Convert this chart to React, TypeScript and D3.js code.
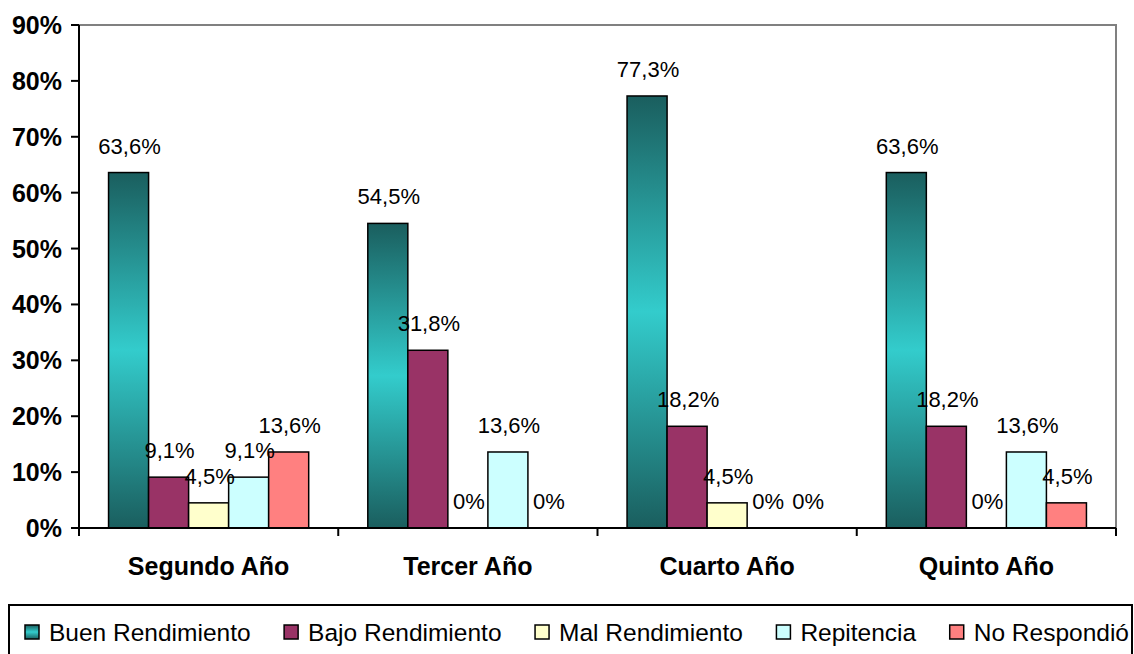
import React, { useEffect, useRef } from "react";
import * as d3 from "d3";

const categories = ["Segundo Año", "Tercer Año", "Cuarto Año", "Quinto Año"];
const seriesNames = ["Buen Rendimiento", "Bajo Rendimiento", "Mal Rendimiento", "Repitencia", "No Respondió"];
const buenRendimiento = [63.6, 54.5, 77.3, 63.6];
const bajoRendimiento = [9.1, 31.8, 18.2, 18.2];
const malRendimiento = [4.5, 0, 4.5, 0];
const repitencia = [9.1, 13.6, 0, 13.6];
const noRespondio = [13.6, 0, 0, 4.5];
const seriesValues = [buenRendimiento, bajoRendimiento, malRendimiento, repitencia, noRespondio];
const yTicks = [0, 10, 20, 30, 40, 50, 60, 70, 80, 90];

const fills = ["url(#buenGrad)", "#993366", "#FFFFCC", "#CCFFFF", "#FF8080"];

const W = 1134;
const H = 654;
const plot = { left: 79, right: 1116, top: 25, bottom: 528 };
const FONT = "Arial, 'Liberation Sans', Helvetica, sans-serif";

function fmt(v: number) {
  if (v === 0) return "0%";
  return v.toFixed(1).replace(".", ",") + "%";
}

export default function App() {
  const ref = useRef<SVGSVGElement>(null);

  useEffect(() => {
    const svg = d3.select(ref.current);
    svg.selectAll("*").remove();

    const defs = svg.append("defs");
    const g = defs
      .append("linearGradient")
      .attr("id", "buenGrad")
      .attr("x1", 0)
      .attr("y1", 0)
      .attr("x2", 0)
      .attr("y2", 1);
    g.append("stop").attr("offset", "0%").attr("stop-color", "#1A5E5E");
    g.append("stop").attr("offset", "50%").attr("stop-color", "#33CCCC");
    g.append("stop").attr("offset", "100%").attr("stop-color", "#1A5E5E");

    const x0 = d3.scaleBand<string>().domain(categories).range([plot.left, plot.right]).paddingInner(0).paddingOuter(0);
    const bw = x0.bandwidth();
    const groupW = bw * 0.772;
    const x1 = d3
      .scaleBand<number>()
      .domain(d3.range(seriesNames.length))
      .range([(bw - groupW) / 2, (bw + groupW) / 2])
      .padding(0);
    const y = d3.scaleLinear().domain([0, 90]).range([plot.bottom, plot.top]);

    // plot border (top & right grey)
    svg
      .append("path")
      .attr("d", `M${plot.left},${plot.top}H${plot.right}V${plot.bottom}`)
      .attr("fill", "none")
      .attr("stroke", "#808080")
      .attr("stroke-width", 2);

    // bars
    const groups = svg
      .append("g")
      .selectAll("g")
      .data(categories)
      .join("g")
      .attr("transform", (d) => `translate(${x0(d)},0)`);

    seriesNames.forEach((name, si) => {
      groups
        .filter((_, ci) => seriesValues[si][ci] > 0)
        .append("rect")
        .attr("x", x1(si)!)
        .attr("width", x1.bandwidth())
        .attr("y", (_, ci) => y(seriesValues[si][categories.indexOf(_ as string)]))
        .attr("height", (c) => plot.bottom - y(seriesValues[si][categories.indexOf(c as string)]))
        .attr("fill", fills[si])
        .attr("stroke", "#000")
        .attr("stroke-width", 1.5);
    });

    // value labels
    seriesNames.forEach((name, si) => {
      groups
        .append("text")
        .attr("x", x1(si)! + x1.bandwidth() / 2 + 1)
        .attr("y", (c) => y(seriesValues[si][categories.indexOf(c as string)]) - 19)
        .attr("text-anchor", "middle")
        .attr("font-family", FONT)
        .attr("font-size", 22)
        .attr("fill", "#000")
        .text((c) => fmt(seriesValues[si][categories.indexOf(c as string)]));
    });

    // y axis
    const yAxis = svg.append("g");
    yAxis
      .append("line")
      .attr("x1", plot.left)
      .attr("x2", plot.left)
      .attr("y1", plot.top)
      .attr("y2", plot.bottom)
      .attr("stroke", "#000")
      .attr("stroke-width", 2);
    yAxis
      .selectAll("line.tick")
      .data(yTicks)
      .join("line")
      .attr("class", "tick")
      .attr("x1", plot.left - 8)
      .attr("x2", plot.left)
      .attr("y1", (d) => y(d))
      .attr("y2", (d) => y(d))
      .attr("stroke", "#000")
      .attr("stroke-width", 2);
    yAxis
      .selectAll("text")
      .data(yTicks)
      .join("text")
      .attr("x", plot.left - 17)
      .attr("y", (d) => y(d))
      .attr("dy", "0.36em")
      .attr("text-anchor", "end")
      .attr("font-family", FONT)
      .attr("font-weight", "bold")
      .attr("font-size", 25)
      .attr("fill", "#000")
      .text((d) => `${d}%`);

    // x axis
    const xAxis = svg.append("g");
    xAxis
      .append("line")
      .attr("x1", plot.left)
      .attr("x2", plot.right)
      .attr("y1", plot.bottom)
      .attr("y2", plot.bottom)
      .attr("stroke", "#000")
      .attr("stroke-width", 2);
    const bounds = categories.map((c) => x0(c)!).concat([plot.right]);
    xAxis
      .selectAll("line.tick")
      .data(bounds)
      .join("line")
      .attr("class", "tick")
      .attr("x1", (d) => d)
      .attr("x2", (d) => d)
      .attr("y1", plot.bottom)
      .attr("y2", plot.bottom + 8)
      .attr("stroke", "#000")
      .attr("stroke-width", 2);
    xAxis
      .selectAll("text")
      .data(categories)
      .join("text")
      .attr("x", (d) => x0(d)! + bw / 2)
      .attr("y", 575)
      .attr("text-anchor", "middle")
      .attr("font-family", FONT)
      .attr("font-weight", "bold")
      .attr("font-size", 25)
      .attr("fill", "#000")
      .text((d) => d);

    // legend
    const leg = svg.append("g");
    leg
      .append("rect")
      .attr("x", 9)
      .attr("y", 605)
      .attr("width", 1123)
      .attr("height", 70)
      .attr("fill", "#fff")
      .attr("stroke", "#000")
      .attr("stroke-width", 2);
    const items = leg
      .selectAll("g.item")
      .data(seriesNames)
      .join("g")
      .attr("class", "item");
    items
      .append("rect")
      .attr("x", 0)
      .attr("y", -7)
      .attr("width", 14)
      .attr("height", 14)
      .attr("fill", (_, i) => fills[i])
      .attr("stroke", "#000")
      .attr("stroke-width", 1.5);
    const texts = items
      .append("text")
      .attr("x", 24)
      .attr("y", 0)
      .attr("dy", "0.36em")
      .attr("font-family", FONT)
      .attr("font-size", 24.5)
      .attr("fill", "#000")
      .text((d) => d);
    const widths: number[] = [];
    texts.each(function () {
      widths.push((this as SVGTextElement).getComputedTextLength());
    });
    const startX = 25;
    const endX = 1129;
    const total = d3.sum(widths) + widths.length * 24;
    const gap = (endX - startX - total) / (widths.length - 1);
    let cx = startX;
    items.attr("transform", (_, i) => {
      const t = `translate(${cx},632)`;
      cx += 24 + widths[i] + gap;
      return t;
    });
  }, []);

  return (
    <svg
      ref={ref}
      width={W}
      height={H}
      style={{ position: "absolute", left: 0, top: 0, background: "#fff" }}
    />
  );
}
